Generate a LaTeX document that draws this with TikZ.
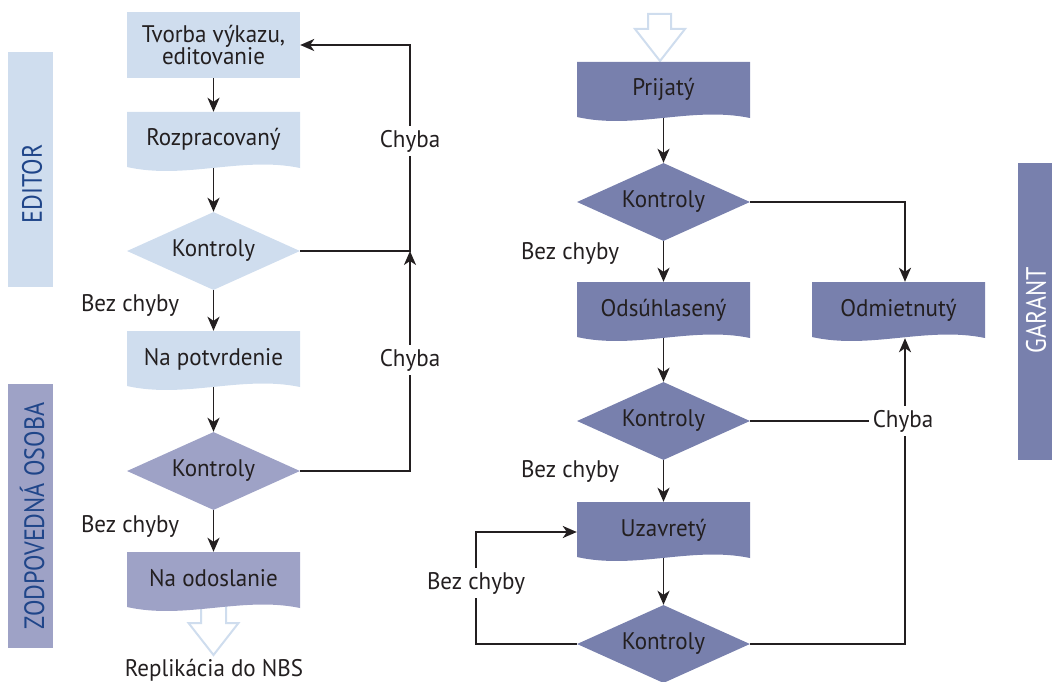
\documentclass[tikz,border=0pt]{standalone}
\usepackage{fontspec}
\setmainfont[FakeStretch=0.96]{PT Sans}
\newfontfamily\bandfont[FakeStretch=0.86]{PT Sans}
\usetikzlibrary{shapes.geometric,arrows.meta,backgrounds}
\definecolor{lblue}{HTML}{CFDDEE}
\definecolor{mpurp}{HTML}{9EA2C6}
\definecolor{dpurp}{HTML}{7880AD}
\definecolor{bandtxt}{HTML}{1F4589}
\definecolor{ink}{HTML}{231F20}
\tikzset{
  txt/.style={font=\fontsize{24}{22}\selectfont, text=ink},
  procbox/.style={txt, rectangle, fill=#1, minimum width=173pt, minimum height=66pt, inner sep=0pt, align=center},
  docbox/.style={txt, rectangle, minimum width=173pt, minimum height=60pt, inner sep=0pt,
    text height=18pt, text depth=10pt,
    path picture={\fill[#1] (path picture bounding box.north west) -- (path picture bounding box.north east)
      -- ([yshift=4pt]path picture bounding box.south east)
      .. controls ([xshift=-58pt,yshift=16pt]path picture bounding box.south east)
      and ([xshift=58pt,yshift=-8pt]path picture bounding box.south west)
      .. ([yshift=5pt]path picture bounding box.south west) -- cycle;}},
  dia/.style={txt, diamond, aspect=2.2, fill=#1, minimum width=173pt, minimum height=78pt, inner sep=0pt},
  lbl/.style={txt, fill=white, inner sep=4pt},
  plain/.style={txt, inner sep=0pt},
  ln/.style={draw=ink, line width=1.9pt},
  arr/.style={ln, -{Stealth[length=14pt,width=12pt,inset=4pt]}},
  band/.style={rectangle, inner sep=0pt, fill=#1},
  bandlbl/.style={font=\bandfont\fontsize{28}{30}\selectfont, rotate=90, inner sep=0pt},
  hollow/.style={draw=lblue, line width=2pt, fill=white, line join=miter},
}
\begin{document}
\begin{tikzpicture}[x=1pt, y=-1pt]
\useasboundingbox (0,0) rectangle (1052,682);

% bands
\node[band=lblue, minimum width=45pt, minimum height=235pt] (bandE) at (30.5,169.5) {};
\node[bandlbl, text=bandtxt] (tE) at (32,184) {EDITOR};
\node[band=mpurp, minimum width=45pt, minimum height=264pt] (bandZ) at (30.5,516) {};
\node[bandlbl, text=bandtxt] (tZ) at (32,516) {ZODPOVEDNÁ OSOBA};
\node[band=dpurp, minimum width=34pt, minimum height=297pt] (bandG) at (1035,311.5) {};
\node[bandlbl, text=white] (tG) at (1036,310) {GARANT};

% left column
\node[procbox=lblue] (tvorba) at (213.5,45) {Tvorba výkazu,\\editovanie};
\node[docbox=lblue] (rozp) at (213.5,142) {Rozpracovaný};
\node[dia=lblue] (k1) at (213.5,251) {Kontroly};
\node[docbox=lblue] (potv) at (213.5,361) {Na potvrdenie};
\node[dia=mpurp] (k2) at (213.5,471) {Kontroly};
\node[docbox=mpurp] (odos) at (213.5,582) {Na odoslanie};
\node[plain] (repl) at (214,670) {Replikácia do NBS};
\node[plain] (bc1) at (130,305) {Bez chyby};
\node[plain] (bc2) at (130,526) {Bez chyby};
\node[lbl] (ch1) at (410,141) {Chyba};
\node[lbl] (ch2) at (410,360) {Chyba};
\coordinate (j1) at (410,251);

% right column
\node[docbox=dpurp] (prij) at (663.5,92) {Prijatý};
\node[dia=dpurp] (kr1) at (663.5,202) {Kontroly};
\node[docbox=dpurp] (odsuh) at (663.5,312) {Odsúhlasený};
\node[docbox=dpurp] (odm) at (898.5,312) {Odmietnutý};
\node[dia=dpurp] (kr2) at (663.5,421) {Kontroly};
\node[docbox=dpurp] (uzav) at (663.5,532) {Uzavretý};
\node[dia=dpurp] (kr3) at (663.5,644) {Kontroly};
\node[plain] (bc3) at (570,253) {Bez chyby};
\node[plain] (bc4) at (570,471) {Bez chyby};
\node[lbl] (bc5) at (476,583) {Bez chyby};
\node[lbl] (ch3) at (903,421) {Chyba};
\coordinate (rx) at (905,0);
\coordinate (lx) at (476,0);

\begin{pgfonlayer}{background}
  % hollow arrows
  \draw[hollow] (201,598) -- (226,598) -- (226,623) -- (238.5,623) -- (213.5,655) -- (188.5,623) -- (201,623) -- cycle;
  \draw[hollow] (648,14) -- (671,14) -- (671,29) -- (685,29) -- (660,61) -- (635,29) -- (648,29) -- cycle;
  % left connectors
  \draw[arr] (tvorba.south) -- (rozp.north);
  \draw[arr] ([yshift=4pt]rozp.south) -- (k1.north);
  \draw[arr] (k1.south) -- (potv.north);
  \draw[arr] ([yshift=4pt]potv.south) -- (k2.north);
  \draw[arr] (k2.south) -- (odos.north);
  \draw[arr] (k1.east) -- (j1) |- (tvorba.east);
  \draw[arr] (k2.east) -| (j1);
  % right connectors
  \draw[arr] ([yshift=4pt]prij.south) -- (kr1.north);
  \draw[arr] (kr1.south) -- (odsuh.north);
  \draw[arr] ([yshift=4pt]odsuh.south) -- (kr2.north);
  \draw[arr] (kr2.south) -- (uzav.north);
  \draw[arr] ([yshift=4pt]uzav.south) -- (kr3.north);
  \draw[arr] (kr1.east) -| (rx |- odm.north);
  \draw[ln] (kr2.east) -- (ch3);
  \draw[arr] (kr3.east) -| ([yshift=4pt]rx |- odm.south);
  \draw[arr] (kr3.west) -- (lx |- kr3.west) |- (uzav.west);
\end{pgfonlayer}
\end{tikzpicture}
\end{document}
